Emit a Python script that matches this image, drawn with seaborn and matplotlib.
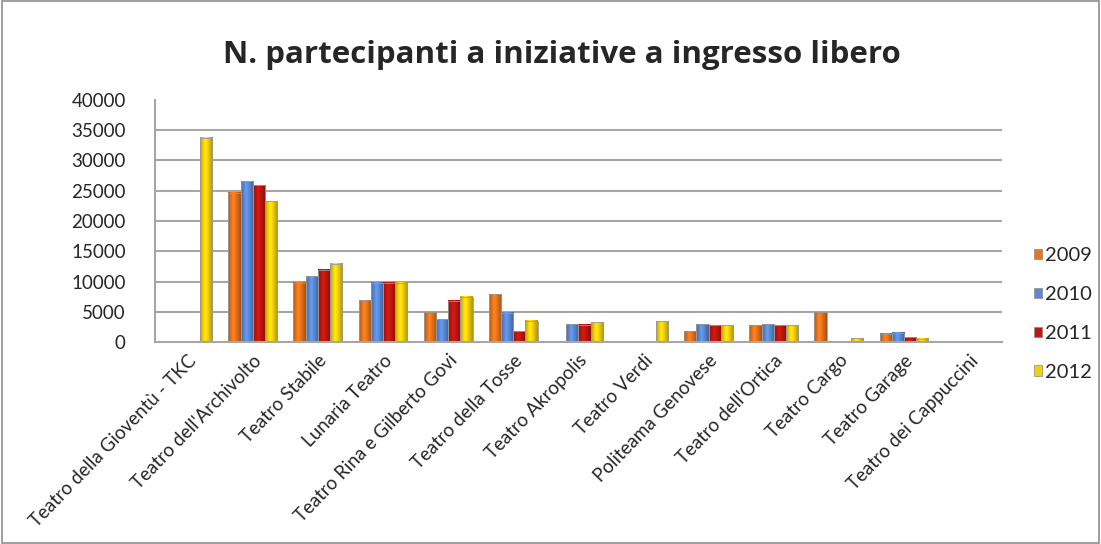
import numpy as np
import pandas as pd
import seaborn as sns
import matplotlib.pyplot as plt
from matplotlib.colors import to_rgb
from matplotlib.patches import Rectangle

# ==============================
#  DATA
# ==============================
teatri = [
    "Teatro della Gioventù - TKC", "Teatro dell'Archivolto", "Teatro Stabile",
    "Lunaria Teatro", "Teatro Rina e Gilberto Govi", "Teatro della Tosse",
    "Teatro Akropolis", "Teatro Verdi", "Politeama Genovese",
    "Teatro dell'Ortica", "Teatro Cargo", "Teatro Garage", "Teatro dei Cappuccini",
]
anni = ["2009", "2010", "2011", "2012"]
v2009 = [0, 24700, 9800, 6900, 4900, 7900, 0, 0, 1800, 2800, 4900, 1400, 0]
v2010 = [0, 26600, 10900, 9800, 3800, 4800, 2900, 0, 2900, 2900, 0, 1500, 0]
v2011 = [0, 25900, 11900, 9800, 6800, 1800, 2850, 0, 2800, 2800, 0, 800, 0]
v2012 = [33800, 23300, 12900, 9800, 7450, 3500, 3300, 3400, 2800, 2800, 600, 500, 0]
colori = ["#E8741C", "#5A8AD6", "#C0160F", "#F2D00C"]

df = pd.DataFrame({"teatro": teatri * 4,
                   "anno": np.repeat(anni, len(teatri)),
                   "valore": v2009 + v2010 + v2011 + v2012})

# ==============================
#  PLOT
# ==============================
sns.set_style("white")
plt.rcParams["font.family"] = ["Lato", "DejaVu Sans"]

fig = plt.figure(figsize=(11.01, 5.44), dpi=100)
ax = fig.add_axes([0.1408, 0.3713, 0.9098 - 0.1408, 0.8162 - 0.3713])

sns.barplot(data=df, x="teatro", y="valore", hue="anno", order=teatri,
            hue_order=anni, palette=colori, width=0.75, saturation=1,
            edgecolor="#9a9a9a", linewidth=0.6, legend=False, ax=ax)

# shaded look like the Excel bars: light in the middle, darker on the sides
profilo = np.concatenate([np.linspace(0.78, 1.12, 10), np.linspace(1.12, 0.72, 14)])
for p in list(ax.patches):
    h = p.get_height()
    if h <= 0:
        continue
    x0, w = p.get_x(), p.get_width()
    rgb = np.array(to_rgb(p.get_facecolor()))
    img = np.clip(profilo[:, None] * rgb[None, :], 0, 1)[None, :, :]
    ax.imshow(img, extent=(x0, x0 + w, 0, h), aspect="auto", zorder=p.get_zorder(),
              interpolation="bilinear")
    p.set_facecolor("none")
    p.set_zorder(p.get_zorder() + 0.1)

ax.set_xlim(-0.5, len(teatri) - 0.5)
ax.set_ylim(0, 40000)
ax.set_yticks(range(0, 40001, 5000))
ax.set_yticklabels([str(t) for t in range(0, 40001, 5000)], fontsize=13.5)
# gridlines up to 35000 (no line at the top of the axis)
ax.hlines(range(5000, 40000, 5000), -0.5, len(teatri) - 0.5,
          color="#a6a6a6", linewidth=1.5, zorder=0.5)
ax.set_xlabel("")
ax.set_ylabel("")
ax.set_xticks(range(len(teatri)))
ax.set_xticklabels(teatri, rotation=46, ha="right", rotation_mode="anchor",
                   fontsize=13.5)
ax.tick_params(axis="x", pad=7, length=0)
ax.tick_params(axis="y", pad=21, length=0)
for s in ["top", "right"]:
    ax.spines[s].set_visible(False)
for s in ["left", "bottom"]:
    ax.spines[s].set_color("#a6a6a6")
    ax.spines[s].set_linewidth(1.5)

handles = [Rectangle((0, 0), 1, 1, facecolor=c, edgecolor="#8a8a8a", linewidth=0.5)
           for c in colori]
fig.legend(handles, anni, loc="center left", bbox_to_anchor=(0.923, 0.4228),
           frameon=False, fontsize=14.5, handlelength=0.4, handleheight=0.4,
           handletextpad=0.15, labelspacing=1.08)

fig.text(0.51, 0.899, "N. partecipanti a iniziative a ingresso libero",
         ha="center", va="center", fontsize=22.5, fontweight="bold",
         family=["Open Sans", "DejaVu Sans"])

fig.patches.append(Rectangle((0.002, 0.002), 0.996, 0.996, transform=fig.transFigure,
                             fill=False, edgecolor="#8c8c8c", linewidth=1.2))

plt.savefig("out.png", dpi=100)
